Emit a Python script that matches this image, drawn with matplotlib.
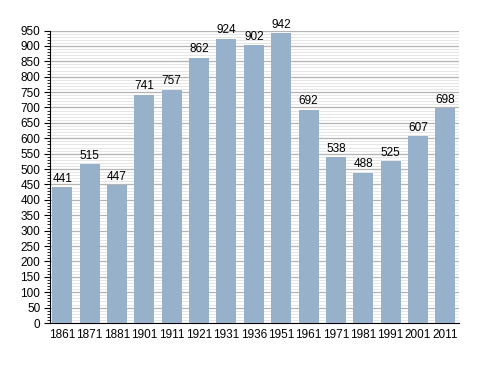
import matplotlib.pyplot as plt
import matplotlib.ticker as mticker

years = ["1861", "1871", "1881", "1901", "1911", "1921", "1931", "1936",
         "1951", "1961", "1971", "1981", "1991", "2001", "2011"]
population = [441, 515, 447, 741, 757, 862, 924, 902, 942, 692, 538, 488, 525, 607, 698]

plt.rcParams["font.family"] = ["Liberation Sans", "DejaVu Sans"]

fig = plt.figure(figsize=(4.88, 3.73), dpi=100)
ax = fig.add_axes([50 / 488, 1 - 323 / 373, 409 / 488, 292.5 / 373])

x = range(len(years))
ax.bar(x, population, width=0.73, color="#98B1CB", zorder=3)
for i, v in zip(x, population):
    ax.text(i, v + 8, str(v), ha="center", va="bottom", fontsize=8.5, zorder=4)

ax.set_xlim(-0.45, len(years) - 0.5)
ax.set_ylim(0, 950)
ax.set_xticks(list(x))
ax.set_xticklabels(years)
ax.yaxis.set_major_locator(mticker.MultipleLocator(50))
ax.yaxis.set_minor_locator(mticker.MultipleLocator(10))
ax.grid(axis="y", which="major", color="#b4b4b4", linewidth=0.9, zorder=0)
ax.grid(axis="y", which="minor", color="#e6e6e6", linewidth=0.7, zorder=0)
ax.tick_params(axis="x", length=0, labelsize=8.5, pad=4)
ax.tick_params(axis="y", which="major", length=4, labelsize=8.5, pad=3)
ax.tick_params(axis="y", which="minor", length=2)
for s in ["top", "right"]:
    ax.spines[s].set_visible(False)

fig.savefig("out.png", dpi=100)
